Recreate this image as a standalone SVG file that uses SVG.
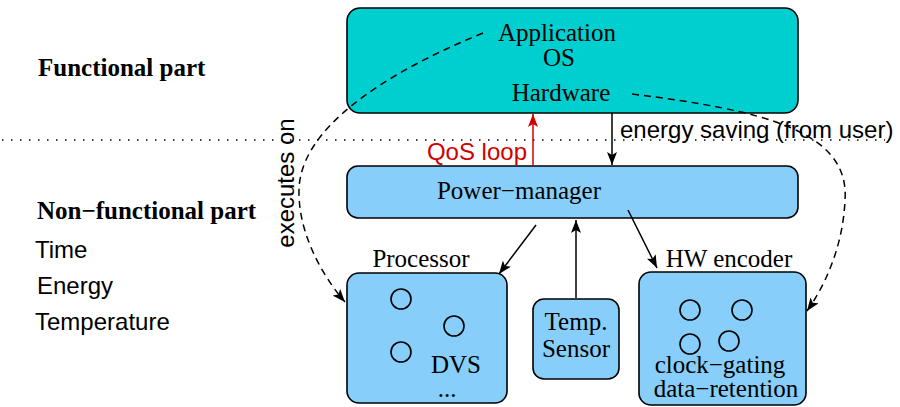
<svg xmlns="http://www.w3.org/2000/svg" width="900" height="407" viewBox="0 0 900 407">
<defs>
<style>
.box{stroke:#000;stroke-width:1.6}
.serif{font-family:"Liberation Serif","Times New Roman",serif;font-size:25px;fill:#000}
.bold{font-family:"Liberation Serif","Times New Roman",serif;font-size:25px;font-weight:bold;fill:#000}
.sans{font-family:"Liberation Sans",Arial,sans-serif;font-size:24px;fill:#000}
.ln{fill:none;stroke:#000;stroke-width:1.5}
.dash{fill:none;stroke:#000;stroke-width:1.5;stroke-dasharray:7 5}
.circ{fill:none;stroke:#000;stroke-width:1.6}
</style>
<marker id="ah" markerUnits="userSpaceOnUse" markerWidth="14" markerHeight="10" refX="13" refY="5" orient="auto">
<path d="M0,0 L13,5 L0,10 L3,5 z" fill="#000"/>
</marker>
<marker id="ahr" markerUnits="userSpaceOnUse" markerWidth="14" markerHeight="10" refX="13" refY="5" orient="auto">
<path d="M0,0 L13,5 L0,10 L3,5 z" fill="#d00000"/>
</marker>
</defs>
<rect width="900" height="407" fill="#fff"/>

<g id="labels">
<text class="bold" x="38" y="76">Functional part</text>
<text class="bold" x="37" y="219">Non−functional part</text>
<text class="sans" x="35" y="258">Time</text>
<text class="sans" x="37" y="294">Energy</text>
<text class="sans" x="35" y="330">Temperature</text>
</g>

<line x1="2" y1="140" x2="885" y2="140" stroke="#000" stroke-width="1.5" stroke-dasharray="1.5 7.5"/>

<g id="functional">
<rect class="box" x="347" y="8" width="451" height="105" rx="13" fill="#00cfcf"/>
<text class="serif" x="557" y="41" text-anchor="middle">Application</text>
<text class="serif" x="559" y="66" text-anchor="middle">OS</text>
<text class="serif" x="561" y="101" text-anchor="middle">Hardware</text>
</g>

<g id="power-manager">
<rect class="box" x="347" y="166" width="451" height="52" rx="11" fill="#87cefa"/>
<text class="serif" x="519" y="199" text-anchor="middle">Power−manager</text>
</g>

<g id="processor">
<text class="serif" x="421" y="267" text-anchor="middle">Processor</text>
<rect class="box" x="347" y="273" width="160" height="130" rx="12" fill="#87cefa"/>
<circle class="circ" cx="401" cy="299" r="10"/>
<circle class="circ" cx="454" cy="326" r="10"/>
<circle class="circ" cx="401" cy="352" r="10"/>
<text class="serif" x="456" y="373" text-anchor="middle">DVS</text>
<text class="serif" x="447" y="397" text-anchor="middle" font-size="20">...</text>
</g>

<g id="temp-sensor">
<rect class="box" x="533" y="299" width="86" height="80" rx="11" fill="#87cefa"/>
<text class="serif" x="576" y="330" text-anchor="middle">Temp.</text>
<text class="serif" x="576" y="357" text-anchor="middle">Sensor</text>
</g>

<g id="hw-encoder">
<text class="serif" x="729" y="267" text-anchor="middle">HW encoder</text>
<rect class="box" x="639" y="272" width="167" height="133" rx="12" fill="#87cefa"/>
<circle class="circ" cx="690" cy="310" r="10"/>
<circle class="circ" cx="742" cy="310" r="10"/>
<circle class="circ" cx="690" cy="344" r="10"/>
<circle class="circ" cx="729" cy="341" r="10"/>
<text class="serif" x="720" y="373" text-anchor="middle">clock−gating</text>
<text class="serif" x="726" y="397" text-anchor="middle">data−retention</text>
</g>

<g id="connectors">
<line x1="533" y1="166" x2="533" y2="114" stroke="#d00000" stroke-width="1.5" marker-end="url(#ahr)"/>
<text x="527" y="160" text-anchor="end" font-family="Liberation Sans, Arial, sans-serif" font-size="24" fill="#d00000">QoS loop</text>
<line class="ln" x1="612" y1="113" x2="612" y2="165" marker-end="url(#ah)"/>
<text class="sans" x="620" y="138">energy saving (from user)</text>
<line class="ln" x1="536" y1="225" x2="499" y2="274" marker-end="url(#ah)"/>
<line class="ln" x1="576" y1="298" x2="576" y2="220" marker-end="url(#ah)"/>
<line class="ln" x1="628" y1="210" x2="657" y2="268" marker-end="url(#ah)"/>
<path class="dash" d="M483,33 C380,75 300,130 299,190 C298,240 330,285 345,302" marker-end="url(#ah)"/>
<text class="sans" font-size="22.5" transform="translate(294,183) rotate(-90)" text-anchor="middle">executes on</text>
<path class="dash" d="M632,94 C760,110 850,130 845,200 C843,250 822,290 807,311" marker-end="url(#ah)"/>
</g>
</svg>
